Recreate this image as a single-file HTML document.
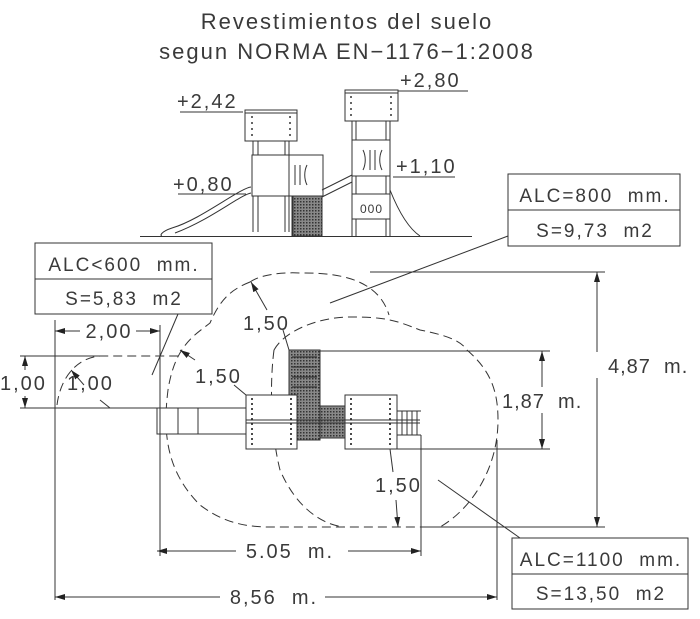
<!DOCTYPE html>
<html><head><meta charset="utf-8"><style>
html,body{margin:0;padding:0;background:#fff}
svg{display:block}
text{font-family:"Liberation Sans",sans-serif;fill:#3a3a3a;white-space:pre;letter-spacing:2px}
</style></head><body>
<svg width="700" height="619" viewBox="0 0 700 619" xmlns="http://www.w3.org/2000/svg">
<defs>
<pattern id="h" width="3" height="3" patternUnits="userSpaceOnUse"><rect width="3" height="3" fill="#888"/><rect width="1.5" height="1.5" fill="#333"/></pattern>
<marker id="a" viewBox="0 0 10 6" refX="10" refY="3" markerWidth="10" markerHeight="6" orient="auto-start-reverse" markerUnits="userSpaceOnUse"><path d="M0,0L10,3L0,6z" fill="#222"/></marker>
</defs>
<g font-size="22">
<text x="347" y="29" text-anchor="middle">Revestimientos del suelo</text>
<text x="347" y="59" text-anchor="middle">segun NORMA EN−1176−1:2008</text>
</g>
<g stroke="#333" fill="none" stroke-width="1">
<line x1="140" y1="236.5" x2="472" y2="236.5"/>
<rect x="245" y="110" width="52" height="31" fill="#fff"/>
<line x1="245" y1="113" x2="297" y2="113"/>
<rect x="345" y="90" width="53" height="31" fill="#fff"/>
<line x1="345" y1="93" x2="398" y2="93"/>
<g stroke-dasharray="2,4" stroke-width="1.5"><line x1="252" y1="116" x2="252" y2="138"/><line x1="290" y1="116" x2="290" y2="138"/><line x1="351" y1="96" x2="351" y2="118"/><line x1="391" y1="96" x2="391" y2="118"/></g>
<line x1="253" y1="141" x2="253" y2="232"/><line x1="258" y1="141" x2="258" y2="232"/>
<line x1="285" y1="141" x2="285" y2="232"/><line x1="289" y1="141" x2="289" y2="232"/>
<rect x="252" y="155" width="38" height="41" fill="#fff"/>
<rect x="289" y="155" width="34" height="41" fill="#fff"/>
<rect x="293" y="196" width="29" height="40" fill="url(#h)"/>
<line x1="292" y1="196" x2="292" y2="236"/><line x1="322" y1="196" x2="322" y2="236"/>
<path d="M251,187 C240,188 200,220 172,228 C160,232 160,236 162,236 M251,193 C240,195 210,220 175,233"/>
<line x1="352" y1="121" x2="352" y2="236"/><line x1="356" y1="121" x2="356" y2="236"/>
<line x1="386" y1="121" x2="386" y2="236"/><line x1="390" y1="121" x2="390" y2="236"/>
<rect x="352" y="140" width="38" height="36" fill="#fff"/>
<rect x="352" y="194" width="38" height="25" fill="#fff"/>
<line x1="322" y1="190" x2="352" y2="175"/><line x1="322" y1="197" x2="352" y2="182"/>
<path d="M390,190 C398,210 408,228 420,236"/>
<path d="M295,165 v20 M300,165 v20 M307,165 c-3,6 -3,14 0,20 M363,150 c3,6 3,14 0,20 M370,150 v20 M375,150 v20 M382,150 c-3,6 -3,14 0,20"/>
<line x1="180" y1="112" x2="243" y2="112"/>
<line x1="398" y1="91" x2="468" y2="91"/>
<line x1="393" y1="177" x2="455" y2="177"/>
<line x1="178" y1="194" x2="246" y2="194"/>
<rect x="35" y="243" width="177" height="71" fill="#fff"/><line x1="35" y1="279" x2="212" y2="279"/>
<rect x="508" y="174" width="172" height="72" fill="#fff"/><line x1="508" y1="210" x2="680" y2="210"/>
<rect x="512" y="538" width="176" height="71" fill="#fff"/><line x1="512" y1="574" x2="688" y2="574"/>
<line x1="178" y1="314" x2="152" y2="375"/>
<line x1="330" y1="303" x2="508" y2="236"/>
<line x1="438" y1="480" x2="520" y2="538"/>
<g stroke-dasharray="9,5">
<path d="M250,282 C260,275 280,272 300,273 C350,272 380,285 389,315 M250,282 C230,290 220,300 210,323 C195,335 175,345 168,390 C163,430 165,470 200,505 C220,520 240,527 270,527 L440,527"/>
<path d="M274,350 C285,330 320,317 350,317 C385,317 395,320 420,330 C445,335 460,340 467,350 C490,370 498,390 498,420 C498,470 470,510 440,527 M274,350 C270,380 270,430 280,470 C295,505 320,525 345,527"/>
<path d="M57,405 C60,380 75,358 100,356 L180,356"/>
</g>
<rect x="160" y="408" width="86" height="26" fill="#fff"/>
<path d="M160,408 h-3 v26 h3" />
<line x1="178" y1="408" x2="178" y2="434"/><line x1="198" y1="408" x2="198" y2="434"/>
<rect x="289" y="350" width="31" height="90" fill="url(#h)"/>
<g stroke="#222"><line x1="292" y1="357" x2="317" y2="357"/><line x1="292" y1="367" x2="317" y2="367"/><line x1="292" y1="377" x2="317" y2="377"/><line x1="292" y1="387" x2="317" y2="387"/></g>
<rect x="320" y="406" width="25" height="32" fill="url(#h)"/>
<rect x="246" y="395" width="51" height="54" fill="#fff"/>
<rect x="345" y="395" width="52" height="54" fill="#fff"/>
<line x1="246" y1="420" x2="420" y2="420"/><line x1="246" y1="423" x2="420" y2="423"/>
<path d="M397,411 h24 M397,435 h24 M402,411 v24 M407,411 v24 M412,411 v24 M417,411 v24"/>
<g stroke-dasharray="2,3" stroke-width="1.5" stroke="#111">
<line x1="252" y1="398" x2="252" y2="446"/><line x1="291" y1="398" x2="291" y2="446"/>
<line x1="351" y1="398" x2="351" y2="446"/><line x1="390" y1="398" x2="390" y2="446"/>
</g>
<line x1="370" y1="272" x2="605" y2="272"/><line x1="420" y1="527" x2="605" y2="527"/>
<line x1="597" y1="272" x2="597" y2="352" marker-start="url(#a)"/><line x1="597" y1="378" x2="597" y2="527" marker-end="url(#a)"/>
<line x1="320" y1="351" x2="550" y2="351"/><line x1="397" y1="449" x2="550" y2="449"/>
<line x1="542" y1="351" x2="542" y2="387" marker-start="url(#a)"/><line x1="542" y1="413" x2="542" y2="449" marker-end="url(#a)"/>
<line x1="55" y1="320" x2="55" y2="600"/>
<line x1="160" y1="325" x2="160" y2="556"/>
<line x1="421" y1="435" x2="421" y2="556"/>
<line x1="497" y1="440" x2="497" y2="600"/>
<line x1="157" y1="551" x2="236" y2="551" marker-start="url(#a)"/><line x1="348" y1="551" x2="421" y2="551" marker-end="url(#a)"/>
<line x1="55" y1="597" x2="220" y2="597" marker-start="url(#a)"/><line x1="325" y1="597" x2="497" y2="597" marker-end="url(#a)"/>
<line x1="55" y1="331" x2="80" y2="331" marker-start="url(#a)"/><line x1="136" y1="331" x2="160" y2="331" marker-end="url(#a)"/>
<line x1="20" y1="356" x2="100" y2="356"/><line x1="20" y1="408" x2="160" y2="408"/>
<line x1="25" y1="356" x2="25" y2="370" marker-start="url(#a)"/><line x1="25" y1="396" x2="25" y2="408" marker-end="url(#a)"/>
<line x1="100" y1="400" x2="110" y2="408"/>
<line x1="84" y1="385" x2="71" y2="370" marker-end="url(#a)"/>
<line x1="267" y1="310" x2="251" y2="282" marker-end="url(#a)"/>
<line x1="283" y1="330" x2="289" y2="350"/>
<line x1="195" y1="360" x2="180" y2="350" marker-end="url(#a)"/>
<line x1="234" y1="385" x2="246" y2="395"/>
<line x1="390" y1="449" x2="393" y2="472"/>
<line x1="396" y1="500" x2="398" y2="527" marker-end="url(#a)"/>
</g>
<g font-size="20">
<text x="177" y="108">+2,42</text>
<text x="400" y="87">+2,80</text>
<text x="396" y="173">+1,10</text>
<text x="173" y="191">+0,80</text>
<text x="608" y="373" style="letter-spacing:1px">4,87  m.</text>
<text x="502" y="408" style="letter-spacing:1px">1,87  m.</text>
<text x="290" y="558" text-anchor="middle">5.05  m.</text>
<text x="274" y="604" text-anchor="middle">8,56  m.</text>
<text x="109" y="338" text-anchor="middle">2,00</text>
<text x="0" y="390">1,00</text>
<text x="67" y="390">1,00</text>
<text x="243" y="330">1,50</text>
<text x="195" y="383">1,50</text>
<text x="375" y="492">1,50</text>
</g>
<g font-size="19">
<text x="124" y="271" text-anchor="middle">ALC&lt;600  mm.</text>
<text x="124" y="305" text-anchor="middle">S=5,83  m2</text>
<text x="595" y="202" text-anchor="middle">ALC=800  mm.</text>
<text x="595" y="237" text-anchor="middle">S=9,73  m2</text>
<text x="601" y="566" text-anchor="middle">ALC=1100  mm.</text>
<text x="601" y="600" text-anchor="middle">S=13,50  m2</text>
</g>
<g font-size="12"><text x="360" y="213" style="letter-spacing:1px">000</text></g>
</svg>
</body></html>
